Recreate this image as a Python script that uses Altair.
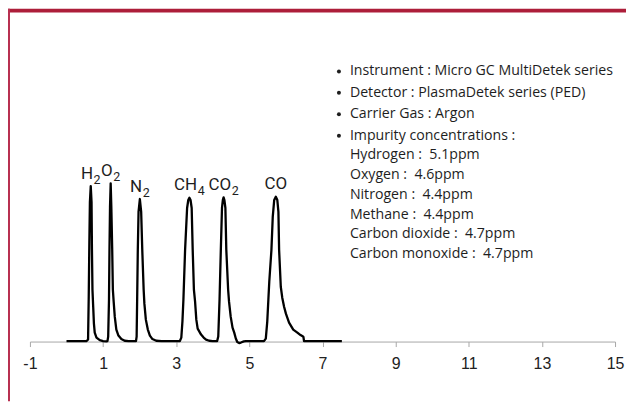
import altair as alt
import pandas as pd

# ---------------- data ----------------
# chromatogram trace: retention time (min) and detector signal (arbitrary units)
rt = [0.00, 0.55, 0.59, 0.608, 0.625, 0.640, 0.663, 0.685, 0.696, 0.710, 0.730, 0.750, 0.772, 0.82, 0.91, 1.00, 1.09,
      1.12, 1.14, 1.162, 1.175, 1.190, 1.208, 1.226, 1.250, 1.268, 1.290, 1.32, 1.363, 1.42, 1.50, 1.59, 1.70, 1.86,
      1.90, 1.918, 1.932, 1.950, 1.970, 2.006, 2.042, 2.072, 2.110, 2.130, 2.17, 2.224, 2.28, 2.35, 2.453, 2.60, 3.09,
      3.10, 3.140, 3.170, 3.197, 3.243, 3.298, 3.330, 3.361, 3.392, 3.423, 3.451, 3.484, 3.516, 3.55, 3.587, 3.68,
      3.75, 3.816, 3.90, 3.996, 4.10,
      4.12, 4.150, 4.185, 4.220, 4.252, 4.275, 4.296, 4.318, 4.345, 4.370, 4.420, 4.445, 4.49, 4.54, 4.587, 4.63,
      4.67, 4.72, 4.77, 4.85, 4.906, 5.36,
      5.40, 5.45, 5.49, 5.52, 5.545, 5.604, 5.640, 5.680, 5.724, 5.765, 5.795, 5.814, 5.860, 5.90, 5.95, 6.00,
      6.086, 6.20, 6.313, 6.40, 6.468, 6.48, 6.495, 7.53]
signal = [0.5, 0.5, 2, 45, 100, 140, 156, 140, 92, 52, 35, 18, 9, 4, 1.5, 0.5, 0.2,
          0.5, 5, 42, 92, 135, 158.7, 135, 92, 52, 40, 25, 12, 6, 2.5, 0.8, 0.5, 0.5,
          0.5, 5, 42, 92, 130, 143, 130, 92, 52, 38, 22, 12, 6, 2.5, 0.8, 0.5, 0.5,
          0.5, 4, 20, 42, 92, 134, 142, 144.3, 142, 134, 92, 52, 40, 22, 13, 7,
          4, 2, 0.8, 0.5, 0.5,
          0.5, 5, 42, 92, 134, 142, 144.7, 142, 134, 92, 52, 40, 25, 14, 9, 3,
          -0.5, -1.5, -1.0, 0.2, 0.5, 0.5,
          0.5, 3, 20, 42, 60, 92, 125, 142, 145.3, 142, 130, 92, 55, 44, 35, 28,
          19, 12, 9, 6.5, 5, 4.5, 0.5, 0.5]

# peaks
peak_main = ["H", "O", "N", "CH", "CO", "CO"]
peak_sub = ["2", "2", "2", "4", "2", ""]
peak_rt = [0.663, 1.208, 2.006, 3.361, 4.296, 5.724]
peak_height = [156, 158.7, 143, 144.3, 144.7, 145.3]

x_ticks = [-1, 1, 3, 5, 7, 9, 11, 13, 15]

bullet_items = ["Instrument : Micro GC MultiDetek series",
                "Detector : PlasmaDetek series (PED)",
                "Carrier Gas : Argon",
                "Impurity concentrations :"]
impurity_names = ["Hydrogen", "Oxygen", "Nitrogen", "Methane", "Carbon dioxide", "Carbon monoxide"]
impurity_ppm = ["5.1", "4.6", "4.4", "4.4", "4.7", "4.7"]

# ---------------- layout / style ----------------
PAD_L, PAD_R, PAD_T, PAD_B = 22, 11, 0, 60
W, H = 587, 334
RED = "#AD1E3A"
FONT = "Liberation Sans"
LABEL_FONT = "Roboto"
INFO_FONT = "Open Sans"
TXT = "#1e1e1e"

xenc = alt.X("rt:Q", scale=alt.Scale(domain=[-1, 15], nice=False, zero=False),
             axis=alt.Axis(values=x_ticks, title=None, grid=False, tickSize=5,
                           tickColor="#a8a8a8", domainColor="#a8a8a8", domainWidth=1,
                           labelFontSize=16, labelFont=FONT, labelColor="#222222",
                           labelPadding=9, labelFlush=False, labelOverlap=False,
                           labelExpr="'' + datum.value"))
yenc = alt.Y("signal:Q", scale=alt.Scale(domain=[0, H], nice=False, zero=False), axis=None)

trace = pd.DataFrame({"rt": rt, "signal": signal})
line = alt.Chart(trace).mark_line(color="black", strokeWidth=2.3, strokeJoin="round").encode(
    x=xenc, y=yenc, order=alt.Order("rt:Q"))

layers = [line]

# peak labels (main text + subscript), centred on each peak
cw = {"H": 0.713, "O": 0.688, "N": 0.713, "C": 0.654}
MAIN_FS, SUB_FS = 17, 12.5
for name, sub, t, h in zip(peak_main, peak_sub, peak_rt, peak_height):
    wm = sum(cw[c] for c in name) * MAIN_FS
    ws = 0.562 * SUB_FS if sub else 0
    total = wm + (0.5 if sub else 0) + ws
    d = pd.DataFrame({"rt": [t], "signal": [h], "main": [name], "sub": [sub]})
    base = alt.Chart(d)
    layers.append(base.mark_text(align="left", baseline="alphabetic", dx=-total / 2, dy=-7.5,
                                 font=LABEL_FONT, fontSize=MAIN_FS, color=TXT).encode(
        x=xenc, y=yenc, text="main:N"))
    if sub:
        layers.append(base.mark_text(align="left", baseline="alphabetic", dx=-total / 2 + wm + 0.5, dy=-2.5,
                                     font=LABEL_FONT, fontSize=SUB_FS, color=TXT).encode(
            x=xenc, y=yenc, text="sub:N"))

# info block on the right
TX, BX = 321, 310
first_base, bullet_gap, line_gap = 67, 21.5, 19.8
rows = []
for i, s in enumerate(bullet_items):
    rows.append((s, first_base + i * bullet_gap, True))
last = first_base + (len(bullet_items) - 1) * bullet_gap
for j, (n, p) in enumerate(zip(impurity_names, impurity_ppm)):
    rows.append((f"{n} :\u00a0 {p}ppm", last + (j + 1) * line_gap, False))

for s, yb, bullet in rows:
    layers.append(alt.Chart(pd.DataFrame({"t": [s]})).mark_text(
        align="left", baseline="alphabetic", font=INFO_FONT, fontSize=14.2, color=TXT).encode(
        x=alt.value(TX), y=alt.value(yb), text="t:N"))
    if bullet:
        layers.append(alt.Chart(pd.DataFrame({"t": [s]})).mark_circle(
            size=16, color=TXT, opacity=1).encode(x=alt.value(BX), y=alt.value(yb - 4)))

# frame decoration: top banner and left border
layers.append(alt.Chart(pd.DataFrame({"a": [0]})).mark_rect(color=RED).encode(
    x=alt.value(-PAD_L), x2=alt.value(W + PAD_R), y=alt.value(0), y2=alt.value(4)))
layers.append(alt.Chart(pd.DataFrame({"a": [0]})).mark_rect(color="#B83050").encode(
    x=alt.value(-PAD_L), x2=alt.value(-PAD_L + 2), y=alt.value(0), y2=alt.value(H + PAD_B)))

chart = alt.layer(*layers).properties(
    width=W, height=H,
    autosize=alt.AutoSizeParams(type="none"),
    padding={"left": PAD_L, "right": PAD_R, "top": PAD_T, "bottom": PAD_B},
    background="white",
).configure_view(strokeWidth=0)

chart.save("out.html", embed_options={"renderer": "svg", "actions": False})
